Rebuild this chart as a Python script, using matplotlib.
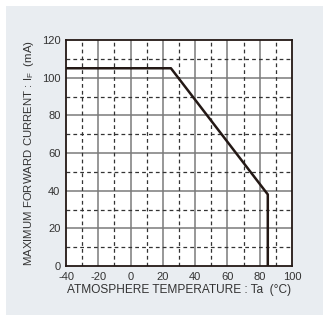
import matplotlib.pyplot as plt
from matplotlib.patches import Rectangle

plt.rcParams['font.family'] = ['Liberation Sans', 'DejaVu Sans']
plt.rcParams['axes.unicode_minus'] = False

# derating curve
temp = [-40, 25, 85, 85]
current = [105, 105, 38, 0]

x_ticks = [-40, -20, 0, 20, 40, 60, 80, 100]
y_ticks = [0, 20, 40, 60, 80, 100, 120]
x_dash = [-30, -10, 10, 30, 50, 70, 90]
y_dash = [10, 30, 50, 70, 90, 110]

fig = plt.figure(figsize=(3.31, 3.18), dpi=100)
fig.patches.append(Rectangle((0.018, 0.01), 0.958, 0.971, transform=fig.transFigure,
                             facecolor='#e9edf1', edgecolor='none', zorder=-1))

ax = fig.add_axes([0.1994, 0.1635, 0.6828, 0.7107])
ax.set_facecolor('white')
ax.set_xlim(-40, 100)
ax.set_ylim(0, 120)

for x in x_ticks[1:-1]:
    ax.axvline(x, color='#7a7a7a', lw=1.1, zorder=1)
for y in y_ticks[1:-1]:
    ax.axhline(y, color='#7a7a7a', lw=1.1, zorder=1)
for x in x_dash:
    ax.axvline(x, color='#333333', lw=0.9, ls=(0, (3, 2.5)), zorder=1)
for y in y_dash:
    ax.axhline(y, color='#333333', lw=0.9, ls=(0, (3, 2.5)), zorder=1)

ax.plot(temp, current, color='#231815', lw=1.8, zorder=3)

ax.set_xticks(x_ticks)
ax.set_yticks(y_ticks)
ax.tick_params(length=0, labelsize=8, colors='#333333', pad=4)
for s in ax.spines.values():
    s.set_color('#231815')
    s.set_linewidth(1.3)

ax.set_xlabel('ATMOSPHERE TEMPERATURE : Ta  (°C)', fontsize=8.6, color='#333333', labelpad=2)
ax.set_ylabel(r'MAXIMUM FORWARD CURRENT : I$_{\mathregular{F}}$  (mA)', fontsize=8.2,
              color='#333333', labelpad=4)

fig.savefig('out.png', dpi=100, facecolor='white')
